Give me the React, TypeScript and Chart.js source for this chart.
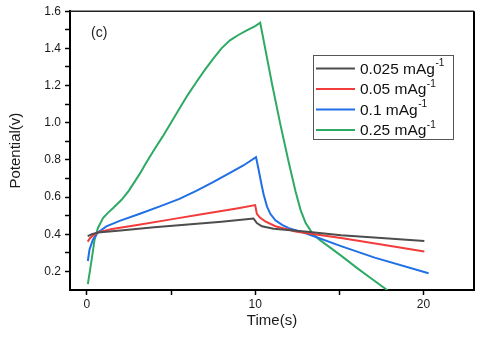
import React, { useEffect, useRef } from "react";
import { Chart, registerables } from "chart.js";

Chart.register(...registerables);

// ---- data ----
const rates = ["0.025", "0.05", "0.1", "0.25"];
const unitText = "mAg";
const unitSup = "-1";
const colors = ["#4d4d4d", "#f23b3b", "#1f6fe5", "#2eaa64"];

const blackT = [0.05, 0.3, 0.66, 2, 4, 6, 8, 9.9, 10.1, 10.4, 11.1, 13.1, 15.1, 17.5, 20.05];
const blackV = [0.39, 0.4, 0.41, 0.42, 0.437, 0.452, 0.467, 0.485, 0.46, 0.443, 0.43, 0.413, 0.395, 0.38, 0.363];

const redT = [0.05, 0.2, 0.4, 0.66, 1.5, 3, 5, 7, 9, 10.0, 10.1, 10.3, 10.6, 11.2, 12.4, 13.1, 15.1, 17.5, 20.05];
const redV = [0.36, 0.38, 0.395, 0.41, 0.428, 0.45, 0.48, 0.51, 0.54, 0.557, 0.51, 0.488, 0.469, 0.443, 0.415, 0.405, 0.38, 0.345, 0.307];

const blueT = [0.06, 0.16, 0.36, 0.66, 1.16, 1.95, 3.15, 4.34, 5.5, 6.5, 7.5, 8.5, 9.3, 10.05, 10.2, 10.35, 10.5, 10.7, 10.9, 11.2, 11.6, 12.0, 13.0, 15.1, 17.1, 20.3];
const blueV = [0.256, 0.318, 0.371, 0.41, 0.442, 0.472, 0.51, 0.55, 0.59, 0.633, 0.68, 0.73, 0.77, 0.815, 0.75, 0.68, 0.615, 0.55, 0.51, 0.475, 0.45, 0.433, 0.405, 0.336, 0.274, 0.19];

const greenT = [0.06, 0.26, 0.46, 0.66, 0.96, 1.25, 1.55, 2.05, 2.5, 3.15, 3.5, 4.0, 4.5, 5.0, 5.53, 6.0, 6.5, 7.0, 7.5, 8.0, 8.5, 9.0, 9.5, 10.0, 10.3, 11.0, 11.5, 12.0, 12.4, 12.7, 13.0, 13.4, 13.8, 14.4, 15.1, 16.1, 17.0, 17.9, 18.3];
const greenV = [0.132, 0.247, 0.371, 0.434, 0.487, 0.515, 0.54, 0.584, 0.635, 0.726, 0.78, 0.855, 0.925, 1.0, 1.08, 1.15, 1.218, 1.283, 1.344, 1.4, 1.443, 1.472, 1.497, 1.52, 1.538, 1.21, 0.99, 0.785, 0.63, 0.53, 0.46, 0.405, 0.372, 0.332, 0.285, 0.215, 0.155, 0.096, 0.07];

const seriesT = [blackT, redT, blueT, greenT];
const seriesV = [blackV, redV, blueV, greenV];

const xTickValues = [0, 5, 10, 15, 20];
const xLabelValues = [0, 10, 20];
const yTickValues = [0.2, 0.3, 0.4, 0.5, 0.6, 0.7, 0.8, 0.9, 1.0, 1.1, 1.2, 1.3, 1.4, 1.5, 1.6];
const yLabelValues = [0.2, 0.4, 0.6, 0.8, 1.0, 1.2, 1.4, 1.6];

const FONT = "'Liberation Sans', Arial, sans-serif";

const near = (list: number[], v: number) => list.some((u) => Math.abs(u - v) < 1e-6);

const decorPlugin = {
  id: "decor",
  afterDraw(chart: any) {
    const { ctx, chartArea } = chart;
    const { left, right, top, bottom } = chartArea;
    ctx.save();
    // top & right frame
    ctx.strokeStyle = "#222";
    ctx.lineWidth = 1.5;
    ctx.beginPath();
    ctx.moveTo(left, top);
    ctx.lineTo(right, top);
    ctx.stroke();
    ctx.strokeStyle = "#000";
    ctx.lineWidth = 2;
    ctx.beginPath();
    ctx.moveTo(right, top);
    ctx.lineTo(right, bottom + 1);
    ctx.stroke();

    // panel label
    ctx.fillStyle = "#222";
    ctx.font = `14px ${FONT}`;
    ctx.textBaseline = "middle";
    ctx.textAlign = "left";
    ctx.fillText("(c)", 91, 33);

    // legend
    const bx = 313, by = 55, bw = 140, bh = 84;
    ctx.fillStyle = "#fff";
    ctx.fillRect(bx, by, bw, bh);
    ctx.strokeStyle = "#555";
    ctx.lineWidth = 1;
    ctx.strokeRect(bx + 0.5, by + 0.5, bw, bh);
    chart.data.datasets.forEach((ds: any, i: number) => {
      const y = 68.5 + i * 20.5;
      ctx.strokeStyle = ds.borderColor;
      ctx.lineWidth = 2;
      ctx.beginPath();
      ctx.moveTo(316, y);
      ctx.lineTo(355, y);
      ctx.stroke();
      ctx.fillStyle = "#111";
      ctx.font = `15.5px ${FONT}`;
      ctx.textBaseline = "middle";
      const main = `${rates[i]} ${unitText}`;
      ctx.fillText(main, 360, y + 1);
      const w = ctx.measureText(main).width;
      ctx.font = `10px ${FONT}`;
      ctx.fillText(unitSup, 360 + w + 0.5, y - 5);
    });
    ctx.restore();
  },
};

export default function App() {
  const ref = useRef<HTMLCanvasElement | null>(null);
  useEffect(() => {
    if (!ref.current) return;
    const chart = new Chart(ref.current, {
      type: "line",
      data: {
        datasets: seriesT.map((ts, i) => ({
          label: `${rates[i]} ${unitText}${unitSup}`,
          data: ts.map((t, j) => ({ x: t, y: seriesV[i][j] })),
          borderColor: colors[i],
          backgroundColor: colors[i],
          borderWidth: 2,
          pointRadius: 0,
          tension: 0,
          fill: false,
        })),
      },
      options: {
        animation: false,
        responsive: false,
        maintainAspectRatio: false,
        layout: { padding: { top: 9, right: 6, left: 0, bottom: 0 } },
        plugins: { legend: { display: false }, tooltip: { enabled: false } },
        scales: {
          x: {
            type: "linear",
            min: -1,
            max: 23,
            afterBuildTicks: (scale: any) => {
              scale.ticks = xTickValues.map((v) => ({ value: v }));
            },
            afterFit: (scale: any) => {
              scale.height = 50;
            },
            ticks: {
              autoSkip: false,
              maxRotation: 0,
              padding: 2,
              color: "#1a1a1a",
              font: { family: FONT, size: 12 },
              callback: (v: any) => (near(xLabelValues, Number(v)) ? String(v) : ""),
            },
            grid: {
              drawOnChartArea: false,
              drawTicks: true,
              tickLength: 5,
              tickColor: "#000",
              tickWidth: 1.5,
            },
            border: { display: true, color: "#000", width: 2 },
            title: {
              display: true,
              text: "Time(s)",
              color: "#1a1a1a",
              font: { family: FONT, size: 15 },
              padding: { top: 0, bottom: 10 },
            },
          },
          y: {
            type: "linear",
            min: 0.1,
            max: 1.6,
            afterBuildTicks: (scale: any) => {
              scale.ticks = yTickValues.map((v) => ({ value: v }));
            },
            afterFit: (scale: any) => {
              scale.width = 70;
            },
            ticks: {
              autoSkip: false,
              padding: 4,
              color: "#1a1a1a",
              font: { family: FONT, size: 12 },
              callback: (v: any) => (near(yLabelValues, Number(v)) ? Number(v).toFixed(1) : ""),
            },
            grid: {
              drawOnChartArea: false,
              drawTicks: true,
              tickLength: 5,
              tickColor: "#000",
              tickWidth: 1.5,
            },
            border: { display: true, color: "#000", width: 2 },
            title: {
              display: true,
              text: "Potential(v)",
              color: "#1a1a1a",
              font: { family: FONT, size: 15 },
              padding: { top: 7, bottom: 0 },
            },
          },
        },
      },
      plugins: [decorPlugin],
    } as any);
    return () => chart.destroy();
  }, []);

  return (
    <div style={{ position: "fixed", left: 0, top: 0, width: 480, height: 340, background: "#fff" }}>
      <canvas ref={ref} width={480} height={340} style={{ width: 480, height: 340, display: "block" }} />
    </div>
  );
}
